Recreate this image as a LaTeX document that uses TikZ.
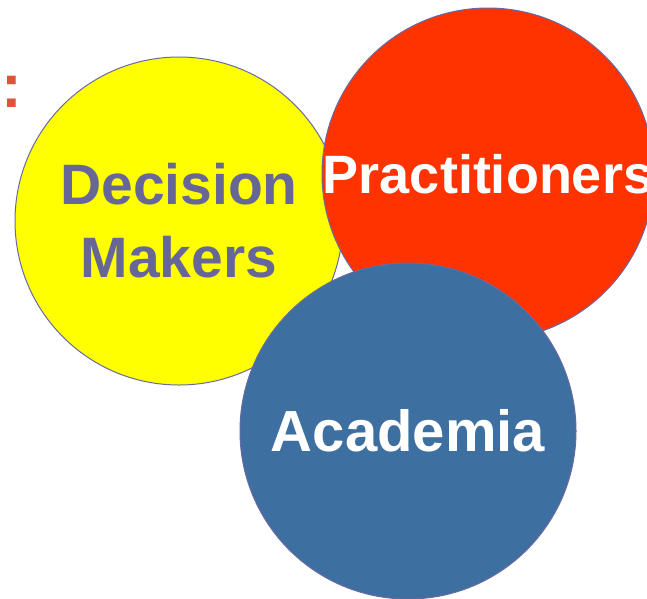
\documentclass[tikz,border=0pt]{standalone}
\usepackage{fontspec}
\setmainfont{Liberation Sans}
\usepackage{tikz}
\usetikzlibrary{positioning}

\definecolor{sunYellow}{HTML}{FFFF00}
\definecolor{fireRed}{HTML}{FF3300}
\definecolor{steelBlue}{HTML}{3D6FA0}
\definecolor{rimColor}{HTML}{6A6AA2}
\definecolor{slateText}{HTML}{666699}
\definecolor{dotRed}{HTML}{E0533B}

\begin{document}
\begin{tikzpicture}[x=1pt, y=1pt]
            \tikzset{
                group circle/.style={
                    circle, draw=rimColor, line width=1pt,
                    inner sep=0pt, align=center,
                    font=\bfseries
                }
            }

            % Fixed frame of the page
            \useasboundingbox (0,0) rectangle (647,-598);

            % --- THE THREE GROUPS ---
            % drawn back to front: yellow, red, blue
            \def\R{164}
            \node[group circle, fill=sunYellow, minimum size=2*\R pt,
                  text=slateText, font=\bfseries\fontsize{57}{73}\selectfont]
                (makers) at (179,-221) {Decision\\Makers};

            \def\R{166}
            \node[group circle, fill=fireRed, minimum size=2*\R pt,
                  text=white, font=\bfseries\fontsize{54}{64}\selectfont]
                (practice) at (488,-174) {Practitioners};

            \def\R{168}
            \node[group circle, fill=steelBlue, minimum size=2*\R pt,
                  text=white, font=\bfseries\fontsize{58}{68}\selectfont]
                (academia) at (408,-431) {Academia};

            % Colon left over from the heading
            \node[text=dotRed, font=\bfseries\fontsize{62}{72}\selectfont,
                  inner sep=0pt] (colon) at (12,-92) {:};
        \end{tikzpicture}
\end{document}
